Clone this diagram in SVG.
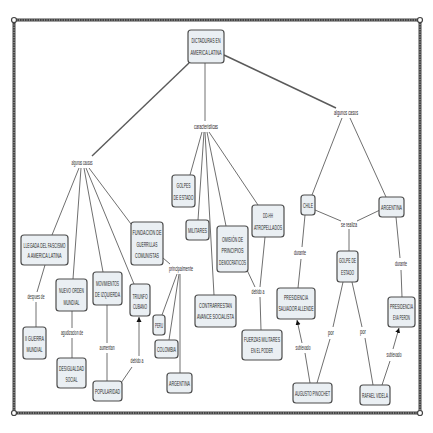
<svg xmlns="http://www.w3.org/2000/svg" width="433" height="433" viewBox="0 0 433 433">
<style>
.n rect{fill:#eaeff3;stroke:#4d4d4d;stroke-width:1.2}
.n text,.lp{font-family:"Liberation Sans",Arial,sans-serif;font-size:7px;fill:#262626;text-anchor:middle}
.lp{font-size:6.5px}
#conn line{stroke:#707070;stroke-width:1}
#conn line.a{marker-end:url(#ar)}
#conn line.t{stroke-width:1.4;stroke:#5a5a5a}
</style>
<defs>
<marker id="ar" viewBox="0 0 10 10" refX="10" refY="5" markerWidth="5" markerHeight="6" orient="auto" markerUnits="userSpaceOnUse"><path d="M0,0 L10,5 L0,10 z" fill="#111"/></marker>
</defs>
<rect width="433" height="433" fill="#fff"/>
<g id="frame">
<rect x="14" y="20" width="406" height="393" fill="none" stroke="#444" stroke-width="3"/>
<rect x="14" y="20" width="406" height="393" fill="none" stroke="#bbb" stroke-width="1" stroke-dasharray="1 1.5"/>
<circle cx="14" cy="20" r="2.5" fill="#fff" stroke="#444" stroke-width="1.2"/>
<circle cx="420" cy="20" r="2.5" fill="#fff" stroke="#444" stroke-width="1.2"/>
<circle cx="14" cy="413" r="2.5" fill="#fff" stroke="#444" stroke-width="1.2"/>
<circle cx="420" cy="413" r="2.5" fill="#fff" stroke="#444" stroke-width="1.2"/>
</g>
<g id="conn">
<line class="t" x1="189" y1="63" x2="92" y2="156"/>
<line x1="205" y1="63" x2="205" y2="121"/>
<line class="t" x1="224" y1="55" x2="336" y2="108"/>
<line x1="79" y1="168" x2="52" y2="235"/>
<line x1="81" y1="168" x2="73" y2="279"/>
<line x1="84" y1="168" x2="103" y2="272"/>
<line x1="86" y1="168" x2="134" y2="284"/>
<line x1="89" y1="168" x2="131" y2="224"/>
<line x1="45" y1="265" x2="37" y2="292"/>
<line x1="36" y1="302" x2="36" y2="327"/>
<line x1="72" y1="311" x2="72" y2="328"/>
<line x1="72" y1="338" x2="72" y2="358"/>
<line x1="107" y1="305" x2="107" y2="343"/>
<line x1="107" y1="353" x2="107" y2="381"/>
<line x1="121" y1="383" x2="132" y2="367"/>
<line class="a" x1="139" y1="356" x2="139" y2="317"/>
<line x1="202" y1="132" x2="190" y2="175"/>
<line x1="204" y1="132" x2="198" y2="220"/>
<line x1="205" y1="132" x2="214" y2="295"/>
<line x1="207" y1="132" x2="226" y2="226"/>
<line x1="209" y1="132" x2="258" y2="205"/>
<line x1="247" y1="270" x2="255" y2="287"/>
<line x1="265" y1="237" x2="260" y2="287"/>
<line x1="260" y1="297" x2="261" y2="330"/>
<line x1="163" y1="258" x2="170" y2="264"/>
<line x1="177" y1="274" x2="162" y2="315"/>
<line x1="179" y1="274" x2="169" y2="340"/>
<line x1="180" y1="274" x2="180" y2="373"/>
<line x1="342" y1="118" x2="312" y2="195"/>
<line x1="350" y1="118" x2="386" y2="197"/>
<line x1="315" y1="210" x2="341" y2="221"/>
<line x1="380" y1="210" x2="357" y2="221"/>
<line x1="349" y1="229" x2="349" y2="251"/>
<line x1="305" y1="215" x2="302" y2="247"/>
<line x1="301" y1="259" x2="298" y2="288"/>
<line x1="396" y1="217" x2="400" y2="258"/>
<line x1="401" y1="270" x2="402" y2="297"/>
<line x1="343" y1="282" x2="333" y2="327"/>
<line x1="330" y1="339" x2="317" y2="383"/>
<line x1="352" y1="282" x2="362" y2="327"/>
<line x1="365" y1="338" x2="373" y2="385"/>
<line x1="310" y1="383" x2="305" y2="353"/>
<line class="a" x1="302" y1="343" x2="297" y2="320"/>
<line x1="382" y1="385" x2="390" y2="361"/>
<line class="a" x1="393" y1="349" x2="399" y2="328"/>
</g>
<g id="labels">
<text class="lp" transform="translate(82,165.3) scale(.5,1)" textLength="42" lengthAdjust="spacingAndGlyphs">algunas causas</text>
<text class="lp" transform="translate(206,129.3) scale(.5,1)" textLength="48" lengthAdjust="spacingAndGlyphs">caracteristicas</text>
<text class="lp" transform="translate(346,115.3) scale(.5,1)" textLength="48" lengthAdjust="spacingAndGlyphs">algunos casos</text>
<text class="lp" transform="translate(36,299.3) scale(.5,1)" textLength="34" lengthAdjust="spacingAndGlyphs">despues de</text>
<text class="lp" transform="translate(72,335.3) scale(.5,1)" textLength="44" lengthAdjust="spacingAndGlyphs">agudizacion de</text>
<text class="lp" transform="translate(107,350.3) scale(.5,1)" textLength="30" lengthAdjust="spacingAndGlyphs">aumentan</text>
<text class="lp" transform="translate(137,363.3) scale(.5,1)" textLength="26" lengthAdjust="spacingAndGlyphs">debido a</text>
<text class="lp" transform="translate(181,271.3) scale(.5,1)" textLength="48" lengthAdjust="spacingAndGlyphs">principalmente</text>
<text class="lp" transform="translate(258,294.3) scale(.5,1)" textLength="26" lengthAdjust="spacingAndGlyphs">debido a</text>
<text class="lp" transform="translate(349,227.3) scale(.5,1)" textLength="32" lengthAdjust="spacingAndGlyphs">se realiza</text>
<text class="lp" transform="translate(300,255.3) scale(.5,1)" textLength="24" lengthAdjust="spacingAndGlyphs">durante</text>
<text class="lp" transform="translate(401,266.3) scale(.5,1)" textLength="24" lengthAdjust="spacingAndGlyphs">durante</text>
<text class="lp" transform="translate(303,350.3) scale(.5,1)" textLength="30" lengthAdjust="spacingAndGlyphs">sublevado</text>
<text class="lp" transform="translate(331,335.3) scale(.5,1)" textLength="12" lengthAdjust="spacingAndGlyphs">por</text>
<text class="lp" transform="translate(363,334.3) scale(.5,1)" textLength="12" lengthAdjust="spacingAndGlyphs">por</text>
<text class="lp" transform="translate(394,357.3) scale(.5,1)" textLength="30" lengthAdjust="spacingAndGlyphs">sublevado</text>
</g>
<g id="root" class="n"><rect x="188" y="30" width="36" height="33" rx="3"/>
<text transform="translate(206,42.5) scale(.5,1)" textLength="58" lengthAdjust="spacingAndGlyphs">DICTADURAS EN</text>
<text transform="translate(206,54.5) scale(.5,1)" textLength="62" lengthAdjust="spacingAndGlyphs">AMERICA LATINA</text></g>
<g id="llegada" class="n"><rect x="21" y="235" width="47" height="30" rx="3"/>
<text transform="translate(44.5,247.5) scale(.5,1)" textLength="84" lengthAdjust="spacingAndGlyphs">LLEGADA DEL FASCISMO</text>
<text transform="translate(44.5,257.5) scale(.5,1)" textLength="68" lengthAdjust="spacingAndGlyphs">A AMERICA LATINA</text></g>
<g id="fundacion" class="n"><rect x="131" y="222" width="32" height="43" rx="3"/>
<text transform="translate(147,234.5) scale(.5,1)" textLength="58" lengthAdjust="spacingAndGlyphs">FUNDACION DE</text>
<text transform="translate(147,246.5) scale(.5,1)" textLength="42" lengthAdjust="spacingAndGlyphs">GUERRILLAS</text>
<text transform="translate(147,257.5) scale(.5,1)" textLength="48" lengthAdjust="spacingAndGlyphs">COMUNISTAS</text></g>
<g id="nuevo" class="n"><rect x="56" y="279" width="31" height="32" rx="3"/>
<text transform="translate(71.5,292.5) scale(.5,1)" textLength="50" lengthAdjust="spacingAndGlyphs">NUEVO ORDEN</text>
<text transform="translate(71.5,304.5) scale(.5,1)" textLength="32" lengthAdjust="spacingAndGlyphs">MUNDIAL</text></g>
<g id="movimientos" class="n"><rect x="93" y="272" width="29" height="33" rx="3"/>
<text transform="translate(107.5,285.5) scale(.5,1)" textLength="46" lengthAdjust="spacingAndGlyphs">MOVIMIENTOS</text>
<text transform="translate(107.5,296.5) scale(.5,1)" textLength="50" lengthAdjust="spacingAndGlyphs">DE IZQUIERDA</text></g>
<g id="triunfo" class="n"><rect x="130" y="284" width="20" height="32" rx="3"/>
<text transform="translate(140,298.5) scale(.5,1)" textLength="30" lengthAdjust="spacingAndGlyphs">TRIUNFO</text>
<text transform="translate(140,308.5) scale(.5,1)" textLength="28" lengthAdjust="spacingAndGlyphs">CUBANO</text></g>
<g id="guerra" class="n"><rect x="23" y="327" width="23" height="32" rx="3"/>
<text transform="translate(34.5,340.5) scale(.5,1)" textLength="38" lengthAdjust="spacingAndGlyphs">II GUERRA</text>
<text transform="translate(34.5,351.5) scale(.5,1)" textLength="32" lengthAdjust="spacingAndGlyphs">MUNDIAL</text></g>
<g id="desigualdad" class="n"><rect x="57" y="358" width="29" height="30" rx="3"/>
<text transform="translate(71.5,370.5) scale(.5,1)" textLength="50" lengthAdjust="spacingAndGlyphs">DESIGUALDAD</text>
<text transform="translate(71.5,381.5) scale(.5,1)" textLength="24" lengthAdjust="spacingAndGlyphs">SOCIAL</text></g>
<g id="popularidad" class="n"><rect x="93" y="381" width="29" height="20" rx="3"/>
<text transform="translate(107.5,393.5) scale(.5,1)" textLength="50" lengthAdjust="spacingAndGlyphs">POPULARIDAD</text></g>
<g id="golpes" class="n"><rect x="172" y="175" width="23" height="32" rx="3"/>
<text transform="translate(183.5,187.5) scale(.5,1)" textLength="28" lengthAdjust="spacingAndGlyphs">GOLPES</text>
<text transform="translate(183.5,199.5) scale(.5,1)" textLength="40" lengthAdjust="spacingAndGlyphs">DE ESTADO</text></g>
<g id="militares" class="n"><rect x="186" y="220" width="23" height="20" rx="3"/>
<text transform="translate(197.5,232.5) scale(.5,1)" textLength="38" lengthAdjust="spacingAndGlyphs">MILITARES</text></g>
<g id="omision" class="n"><rect x="217" y="226" width="31" height="46" rx="3"/>
<text transform="translate(232.5,241.5) scale(.5,1)" textLength="42" lengthAdjust="spacingAndGlyphs">OMISIÓN DE</text>
<text transform="translate(232.5,252.5) scale(.5,1)" textLength="44" lengthAdjust="spacingAndGlyphs">PRINCIPIOS</text>
<text transform="translate(232.5,264.5) scale(.5,1)" textLength="54" lengthAdjust="spacingAndGlyphs">DEMOCRATICOS</text></g>
<g id="ddhh" class="n"><rect x="252" y="205" width="32" height="32" rx="3"/>
<text transform="translate(268,217.5) scale(.5,1)" textLength="20" lengthAdjust="spacingAndGlyphs">DD-HH</text>
<text transform="translate(268,229.5) scale(.5,1)" textLength="56" lengthAdjust="spacingAndGlyphs">ATROPELLADOS</text></g>
<g id="contrarrestan" class="n"><rect x="195" y="295" width="41" height="32" rx="3"/>
<text transform="translate(215.5,307.5) scale(.5,1)" textLength="66" lengthAdjust="spacingAndGlyphs">CONTRARRESTAN</text>
<text transform="translate(215.5,318.5) scale(.5,1)" textLength="74" lengthAdjust="spacingAndGlyphs">AVANCE SOCIALISTA</text></g>
<g id="fuerzas" class="n"><rect x="242" y="330" width="40" height="30" rx="3"/>
<text transform="translate(262,341.5) scale(.5,1)" textLength="72" lengthAdjust="spacingAndGlyphs">FUERZAS MILITARES</text>
<text transform="translate(262,352.5) scale(.5,1)" textLength="44" lengthAdjust="spacingAndGlyphs">EN EL PODER</text></g>
<g id="peru" class="n"><rect x="153" y="315" width="12" height="20" rx="3"/>
<text transform="translate(159,327.5) scale(.5,1)" textLength="16" lengthAdjust="spacingAndGlyphs">PERU</text></g>
<g id="colombia" class="n"><rect x="155" y="340" width="23" height="18" rx="3"/>
<text transform="translate(166.5,351.5) scale(.5,1)" textLength="38" lengthAdjust="spacingAndGlyphs">COLOMBIA</text></g>
<g id="argentina1" class="n"><rect x="167" y="373" width="25" height="20" rx="3"/>
<text transform="translate(179.5,385.5) scale(.5,1)" textLength="42" lengthAdjust="spacingAndGlyphs">ARGENTINA</text></g>
<g id="chile" class="n"><rect x="301" y="195" width="14" height="20" rx="3"/>
<text transform="translate(308,207.5) scale(.5,1)" textLength="20" lengthAdjust="spacingAndGlyphs">CHILE</text></g>
<g id="argentina2" class="n"><rect x="379" y="197" width="25" height="20" rx="3"/>
<text transform="translate(391.5,209.5) scale(.5,1)" textLength="42" lengthAdjust="spacingAndGlyphs">ARGENTINA</text></g>
<g id="golpe" class="n"><rect x="337" y="251" width="21" height="31" rx="3"/>
<text transform="translate(347.5,262.5) scale(.5,1)" textLength="34" lengthAdjust="spacingAndGlyphs">GOLPE DE</text>
<text transform="translate(347.5,274.5) scale(.5,1)" textLength="26" lengthAdjust="spacingAndGlyphs">ESTADO</text></g>
<g id="allende" class="n"><rect x="277" y="288" width="38" height="31" rx="3"/>
<text transform="translate(296,299.5) scale(.5,1)" textLength="48" lengthAdjust="spacingAndGlyphs">PRESIDENCIA</text>
<text transform="translate(296,310.5) scale(.5,1)" textLength="70" lengthAdjust="spacingAndGlyphs">SALVADOR ALLENDE</text></g>
<g id="peron" class="n"><rect x="388" y="297" width="27" height="30" rx="3"/>
<text transform="translate(401.5,308.5) scale(.5,1)" textLength="46" lengthAdjust="spacingAndGlyphs">PRESIDENCIA</text>
<text transform="translate(401.5,319.5) scale(.5,1)" textLength="34" lengthAdjust="spacingAndGlyphs">EVA PERON</text></g>
<g id="pinochet" class="n"><rect x="293" y="383" width="39" height="20" rx="3"/>
<text transform="translate(312.5,395.5) scale(.5,1)" textLength="70" lengthAdjust="spacingAndGlyphs">AUGUSTO PINOCHET</text></g>
<g id="videla" class="n"><rect x="360" y="385" width="30" height="20" rx="3"/>
<text transform="translate(375,397.5) scale(.5,1)" textLength="52" lengthAdjust="spacingAndGlyphs">RAFAEL VIDELA</text></g>
</svg>
